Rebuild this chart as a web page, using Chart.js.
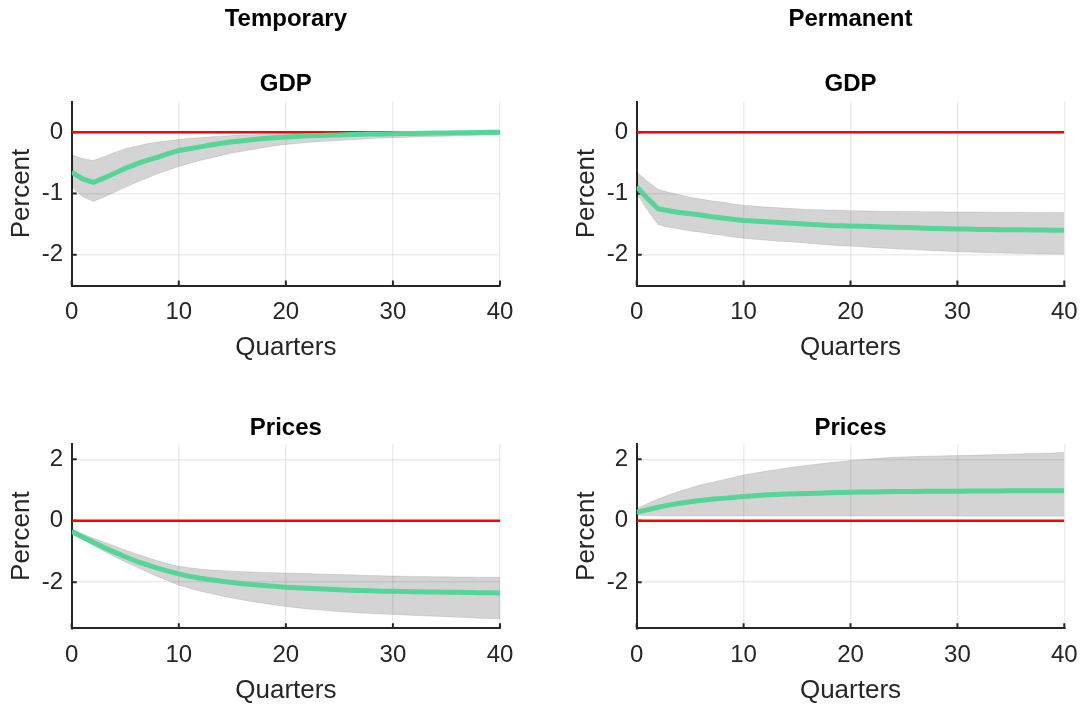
<!DOCTYPE html>
<html>
<head>
<meta charset="utf-8">
<script src="https://cdn.jsdelivr.net/npm/chart.js@4.4.1/dist/chart.umd.min.js"></script>
<style>
  html, body { margin: 0; padding: 0; background: #ffffff; overflow: hidden; width: 1085px; height: 704px; }
  body { position: relative; }
  canvas { position: absolute; }
</style>
</head>
<body>
<canvas id="tempGdp"></canvas>
<canvas id="permGdp"></canvas>
<canvas id="tempPrices"></canvas>
<canvas id="permPrices"></canvas>
<script>
// ---- Data: impulse responses (median and bands), by quarter ----
const quarters = [0,1,2,3,4,5,6,7,8,9,10,11,12,13,14,15,16,17,18,19,20,
                  21,22,23,24,25,26,27,28,29,30,31,32,33,34,35,36,37,38,39,40];

const xTicks = [0, 10, 20, 30, 40];
const xTickLabels = ['0', '10', '20', '30', '40'];
const gdpTicks = [-2, -1, 0];
const gdpTickLabels = ['-2', '-1', '0'];
const priceTicks = [-2, 0, 2];
const priceTickLabels = ['-2', '0', '2'];

const columnTitles = ['Temporary', 'Permanent'];
const rowTitles = ['GDP', 'Prices'];
const xAxisLabel = 'Quarters';
const yAxisLabel = 'Percent';

const tempGdpMedian = [-0.65,-0.76,-0.82,-0.75,-0.67,-0.59,-0.52,-0.46,-0.41,-0.35,
  -0.30,-0.27,-0.24,-0.21,-0.18,-0.155,-0.14,-0.12,-0.105,-0.09,
  -0.08,-0.07,-0.06,-0.055,-0.05,-0.045,-0.04,-0.035,-0.03,-0.028,
  -0.025,-0.022,-0.02,-0.017,-0.015,-0.012,-0.01,-0.008,-0.005,-0.003,0.0];
const tempGdpUpper = [-0.37,-0.43,-0.46,-0.40,-0.33,-0.27,-0.23,-0.19,-0.16,-0.14,
  -0.12,-0.10,-0.09,-0.075,-0.065,-0.055,-0.048,-0.042,-0.036,-0.031,
  -0.027,-0.023,-0.02,-0.017,-0.014,-0.012,-0.01,-0.008,-0.006,-0.004,
  -0.002,0.0,0.002,0.003,0.004,0.005,0.006,0.007,0.008,0.009,0.01];
const tempGdpLower = [-0.89,-1.05,-1.13,-1.06,-0.98,-0.90,-0.82,-0.75,-0.68,-0.62,
  -0.56,-0.51,-0.46,-0.42,-0.38,-0.34,-0.31,-0.28,-0.25,-0.22,
  -0.20,-0.185,-0.17,-0.155,-0.145,-0.135,-0.125,-0.115,-0.105,-0.097,
  -0.09,-0.085,-0.08,-0.075,-0.07,-0.065,-0.06,-0.055,-0.05,-0.047,-0.045];

const permGdpMedian = [-0.89,-1.08,-1.25,-1.28,-1.31,-1.33,-1.35,-1.38,-1.40,-1.42,
  -1.44,-1.45,-1.46,-1.47,-1.48,-1.49,-1.50,-1.51,-1.52,-1.525,
  -1.53,-1.535,-1.54,-1.545,-1.55,-1.555,-1.56,-1.565,-1.57,-1.575,
  -1.58,-1.58,-1.585,-1.585,-1.59,-1.59,-1.59,-1.595,-1.595,-1.60,-1.60];
const permGdpUpper = [-0.65,-0.80,-0.93,-0.98,-1.02,-1.06,-1.09,-1.12,-1.14,-1.17,
  -1.19,-1.205,-1.22,-1.23,-1.24,-1.25,-1.26,-1.265,-1.27,-1.275,
  -1.28,-1.283,-1.286,-1.288,-1.29,-1.292,-1.294,-1.296,-1.298,-1.30,
  -1.30,-1.302,-1.303,-1.304,-1.305,-1.306,-1.307,-1.308,-1.309,-1.31,-1.31];
const permGdpLower = [-1.00,-1.27,-1.51,-1.55,-1.58,-1.61,-1.63,-1.66,-1.68,-1.71,
  -1.73,-1.745,-1.76,-1.775,-1.785,-1.795,-1.81,-1.825,-1.84,-1.85,
  -1.86,-1.87,-1.88,-1.89,-1.90,-1.91,-1.915,-1.925,-1.935,-1.94,
  -1.95,-1.955,-1.96,-1.965,-1.97,-1.975,-1.98,-1.982,-1.985,-1.988,-1.99];

const tempPricesMedian = [-0.35,-0.53,-0.70,-0.87,-1.02,-1.17,-1.31,-1.43,-1.54,-1.64,
  -1.73,-1.81,-1.87,-1.92,-1.97,-2.01,-2.05,-2.08,-2.11,-2.135,
  -2.16,-2.18,-2.20,-2.215,-2.23,-2.245,-2.26,-2.27,-2.28,-2.29,
  -2.295,-2.30,-2.31,-2.315,-2.32,-2.325,-2.33,-2.335,-2.34,-2.345,-2.35];
const tempPricesUpper = [-0.27,-0.42,-0.56,-0.69,-0.82,-0.95,-1.07,-1.19,-1.30,-1.40,
  -1.48,-1.53,-1.57,-1.60,-1.62,-1.64,-1.655,-1.67,-1.68,-1.69,
  -1.70,-1.71,-1.72,-1.73,-1.74,-1.75,-1.76,-1.77,-1.78,-1.79,
  -1.80,-1.805,-1.81,-1.815,-1.82,-1.825,-1.83,-1.83,-1.835,-1.84,-1.84];
const tempPricesLower = [-0.39,-0.60,-0.80,-0.99,-1.17,-1.34,-1.50,-1.66,-1.81,-1.95,
  -2.10,-2.20,-2.29,-2.37,-2.45,-2.52,-2.58,-2.64,-2.69,-2.74,
  -2.79,-2.83,-2.87,-2.90,-2.93,-2.96,-2.98,-3.00,-3.02,-3.035,
  -3.05,-3.065,-3.08,-3.095,-3.11,-3.12,-3.14,-3.15,-3.17,-3.18,-3.19];

const permPricesMedian = [0.28,0.36,0.44,0.51,0.57,0.62,0.66,0.70,0.73,0.76,
  0.79,0.815,0.84,0.855,0.87,0.88,0.89,0.90,0.91,0.92,
  0.93,0.935,0.94,0.945,0.95,0.952,0.955,0.958,0.96,0.962,
  0.965,0.967,0.969,0.97,0.972,0.974,0.975,0.977,0.978,0.979,0.98];
const permPricesUpper = [0.39,0.56,0.71,0.84,0.96,1.07,1.17,1.25,1.33,1.41,
  1.49,1.55,1.61,1.665,1.72,1.77,1.81,1.85,1.89,1.925,
  1.96,1.99,2.02,2.045,2.065,2.08,2.09,2.10,2.11,2.12,
  2.125,2.13,2.14,2.15,2.16,2.17,2.18,2.19,2.20,2.21,2.23];
const permPricesLower = [0.18,0.17,0.165,0.16,0.16,0.16,0.16,0.16,0.158,0.158,
  0.157,0.157,0.156,0.156,0.155,0.155,0.155,0.155,0.154,0.154,
  0.154,0.154,0.153,0.153,0.153,0.153,0.152,0.152,0.152,0.152,
  0.152,0.151,0.151,0.151,0.151,0.15,0.15,0.15,0.15,0.15,0.15];

// ---- Styling ----
const FONT = '"Liberation Sans", Arial, Helvetica, sans-serif';
const TEXT = '#262626';
const AXIS = '#262626';
const GRID = 'rgba(0,0,0,0.075)';
const GREEN = '#55d596';
const BAND = 'rgba(0,0,0,0.17)';
const BAND_EDGE = 'rgba(0,0,0,0.10)';
const RED = '#ff0000';

// Short tick marks pointing into the plot area (drawn beneath the data)
const innerTicks = {
  id: 'innerTicks',
  beforeDatasetsDraw(chart) {
    const { ctx, chartArea: a, scales: { x, y } } = chart;
    ctx.save();
    ctx.strokeStyle = AXIS;
    ctx.lineWidth = 2;
    ctx.beginPath();
    x.ticks.forEach(t => {
      const px = x.getPixelForValue(t.value);
      ctx.moveTo(px, a.bottom);
      ctx.lineTo(px, a.bottom - 5);
    });
    y.ticks.forEach(t => {
      const py = y.getPixelForValue(t.value);
      ctx.moveTo(a.left, py);
      ctx.lineTo(a.left + 5, py);
    });
    ctx.stroke();
    ctx.restore();
  }
};

const toPoints = arr => quarters.map((q, i) => ({ x: q, y: arr[i] }));

function drawPanel(cfg) {
  const cv = document.getElementById(cfg.id);
  cv.width = cfg.w; cv.height = cfg.h;
  cv.style.left = cfg.x + 'px'; cv.style.top = cfg.y + 'px';
  cv.style.width = cfg.w + 'px'; cv.style.height = cfg.h + 'px';

  const titleFont = { family: FONT, size: 24, weight: 'bold', lineHeight: 1 };
  const titlePlugin = cfg.header
    ? { display: true, text: cfg.header, fullSize: false, color: '#000', font: titleFont, padding: { top: 7, bottom: 0 } }
    : { display: true, text: cfg.title, fullSize: false, color: '#000', font: titleFont, padding: { top: 46.5, bottom: 3.5 } };
  const subtitlePlugin = cfg.header
    ? { display: true, text: cfg.title, fullSize: false, color: '#000', font: titleFont, padding: { top: 41, bottom: 5.5 } }
    : { display: false };

  new Chart(cv, {
    type: 'line',
    data: {
      datasets: [
        { data: toPoints(cfg.mid), borderColor: GREEN, borderWidth: 5, pointRadius: 0,
          fill: false, order: 0, borderJoinStyle: 'round' },
        { data: toPoints(cfg.hi), borderColor: BAND_EDGE, borderWidth: 1, pointRadius: 0,
          backgroundColor: BAND, fill: '+1', order: 1 },
        { data: toPoints(cfg.lo), borderColor: BAND_EDGE, borderWidth: 1, pointRadius: 0,
          fill: false, order: 2 },
        { data: [{ x: xTicks[0], y: 0 }, { x: xTicks[xTicks.length - 1], y: 0 }],
          borderColor: RED, borderWidth: 2.5, pointRadius: 0, fill: false, order: 3 }
      ]
    },
    options: {
      responsive: false,
      animation: false,
      devicePixelRatio: 1,
      events: [],
      layout: { padding: { left: 0, right: cfg.padR, top: 0, bottom: 0 } },
      plugins: {
        legend: { display: false },
        tooltip: { enabled: false },
        title: titlePlugin,
        subtitle: subtitlePlugin
      },
      scales: {
        x: {
          type: 'linear',
          min: xTicks[0],
          max: xTicks[xTicks.length - 1],
          afterBuildTicks: s => { s.ticks = xTicks.map(v => ({ value: v })); },
          afterFit: s => { s.height = cfg.xH; },
          grid: { color: GRID, lineWidth: 1.5, drawTicks: false },
          border: { display: true, color: AXIS, width: 2 },
          ticks: {
            padding: 12.7, color: TEXT, maxRotation: 0, autoSkip: false,
            font: { family: FONT, size: 24 },
            callback: (v, i) => xTickLabels[i]
          },
          title: {
            display: true, text: xAxisLabel, color: TEXT,
            font: { family: FONT, size: 26 },
            padding: { top: 0, bottom: cfg.qPad }
          }
        },
        y: {
          type: 'linear',
          min: cfg.yMin,
          max: cfg.yMax,
          afterBuildTicks: s => { s.ticks = cfg.yTicks.map(v => ({ value: v })); },
          afterFit: s => { s.width = 71.7; },
          grid: { color: GRID, lineWidth: 1.5, drawTicks: false },
          border: { display: true, color: AXIS, width: 2 },
          ticks: {
            padding: 8.7, color: TEXT, autoSkip: false,
            font: { family: FONT, size: 24 },
            callback: (v, i) => cfg.yTickLabels[i]
          },
          title: {
            display: true, text: yAxisLabel, color: TEXT,
            font: { family: FONT, size: 26 },
            padding: { top: 6.1, bottom: 0 }
          }
        }
      }
    },
    plugins: [innerTicks]
  });
}

drawPanel({ id: 'tempGdp', x: 0, y: 0, w: 540, h: 370, padR: 40, xH: 84.5, qPad: 6.6,
  header: columnTitles[0], title: rowTitles[0],
  mid: tempGdpMedian, hi: tempGdpUpper, lo: tempGdpLower,
  yMin: -2.5, yMax: 0.5, yTicks: gdpTicks, yTickLabels: gdpTickLabels });

drawPanel({ id: 'permGdp', x: 565, y: 0, w: 540, h: 370, padR: 40.7, xH: 84.5, qPad: 6.6,
  header: columnTitles[1], title: rowTitles[0],
  mid: permGdpMedian, hi: permGdpUpper, lo: permGdpLower,
  yMin: -2.5, yMax: 0.5, yTicks: gdpTicks, yTickLabels: gdpTickLabels });

drawPanel({ id: 'tempPrices', x: 0, y: 370, w: 540, h: 340, padR: 40, xH: 81.7, qPad: 3.8,
  header: null, title: rowTitles[1],
  mid: tempPricesMedian, hi: tempPricesUpper, lo: tempPricesLower,
  yMin: -3.5, yMax: 2.5, yTicks: priceTicks, yTickLabels: priceTickLabels });

drawPanel({ id: 'permPrices', x: 565, y: 370, w: 540, h: 340, padR: 40.7, xH: 81.7, qPad: 3.8,
  header: null, title: rowTitles[1],
  mid: permPricesMedian, hi: permPricesUpper, lo: permPricesLower,
  yMin: -3.5, yMax: 2.5, yTicks: priceTicks, yTickLabels: priceTickLabels });
</script>
</body>
</html>
